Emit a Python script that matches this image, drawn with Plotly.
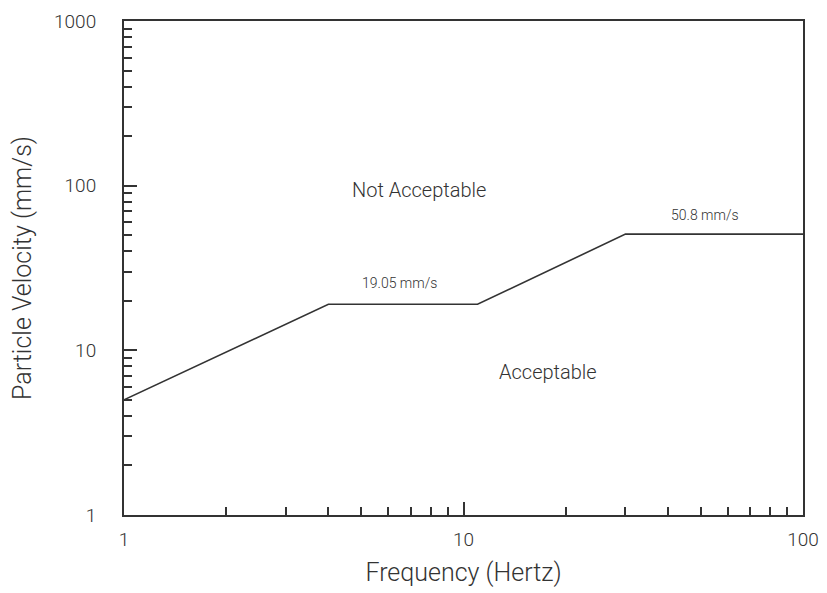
import math
import plotly.graph_objects as go

# Data
freq_hz = [1, 4, 11, 30, 100]
velocity_mms = [5, 19.05, 19.05, 50.8, 50.8]

x_major = [1, 10, 100]
x_major_text = ["1", "10", "100"]
y_major = [1, 10, 100, 1000]
y_major_text = ["1", "10", "100", "1000"]
x_minor = [2, 3, 4, 5, 6, 7, 8, 9, 20, 30, 40, 50, 60, 70, 80, 90]
y_minor = [2, 3, 4, 5, 6, 7, 8, 9, 20, 30, 40, 50, 60, 70, 80, 90,
           200, 300, 400, 500, 600, 700, 800, 900]

label_texts = ["Not Acceptable", "Acceptable", "19.05 mm/s", "50.8 mm/s"]
label_x = [7.4, 17.7, 6.5, 51.4]
label_y = [94, 7.4, 25.5, 66.5]
label_sizes = [20, 20, 14, 14]

FONT = "Roboto, Liberation Sans, sans-serif"
INK = "#333333"

fig = go.Figure()
fig.add_trace(go.Scatter(x=freq_hz, y=velocity_mms, mode="lines",
                         line=dict(color=INK, width=1.6), showlegend=False,
                         hoverinfo="skip"))

for t, x, y, s in zip(label_texts, label_x, label_y, label_sizes):
    fig.add_annotation(x=math.log10(x), y=math.log10(y), xref="x", yref="y",
                       text=t, showarrow=False,
                       font=dict(family=FONT, size=s, color=INK, weight=300))

axis_common = dict(
    type="log", showgrid=False, zeroline=False, automargin=False,
    showline=True, linecolor=INK, linewidth=2, mirror=True,
    ticks="inside", ticklen=13, tickwidth=1.5, tickcolor=INK,
    tickfont=dict(family=FONT, size=19, color=INK, weight=300),
    tickmode="array", ticklabeloverflow="allow",
)

fig.update_xaxes(**axis_common, range=[0, 2], tickvals=x_major, ticktext=x_major_text,
                 ticklabelstandoff=6,
                 minor=dict(tickmode="array", tickvals=x_minor, ticks="inside",
                            ticklen=8, tickwidth=1.5, tickcolor=INK),
                 title=dict(text="Frequency (Hertz)",
                            font=dict(family=FONT, size=25, color=INK, weight=300),
                            standoff=14))
fig.update_yaxes(**axis_common, range=[0, 3], tickvals=y_major, ticktext=y_major_text,
                 ticklabelstandoff=22,
                 minor=dict(tickmode="array", tickvals=y_minor, ticks="inside",
                            ticklen=8, tickwidth=1.5, tickcolor=INK),
                 title=dict(text="Particle Velocity (mm/s)",
                            font=dict(family=FONT, size=25, color=INK, weight=300),
                            standoff=23))

# the page adds an 8px body margin, so the figure is sized 8px smaller
fig.update_layout(width=819, height=585,
                  margin=dict(l=116, r=24, t=13, b=78),
                  paper_bgcolor="white", plot_bgcolor="white")

fig.write_html("out.html")
